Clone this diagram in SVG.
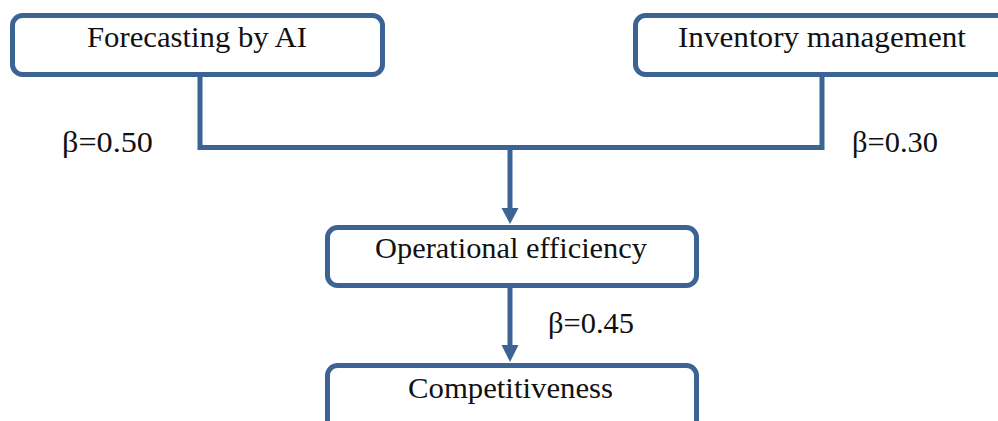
<svg xmlns="http://www.w3.org/2000/svg" width="998" height="421" viewBox="0 0 998 421">
<defs>
<style>
.box{fill:#ffffff;stroke:#3b6394;stroke-width:5}
.lbl{font-family:"Liberation Serif","DejaVu Serif","Times New Roman",serif;font-size:29px;fill:#111111}
.con{fill:none;stroke:#3b6394;stroke-width:5}
.head{fill:#3b6394}
</style>
</defs>
<rect width="998" height="421" fill="#ffffff"/>
<g id="connectors">
<path class="con" d="M200,76 V147.5 H822 V76"/>
<path class="con" d="M510,147.5 V210"/>
<polygon class="head" points="501.5,208 518.5,208 510,224"/>
<path class="con" d="M510,287 V347"/>
<polygon class="head" points="501.5,345 518.5,345 510,362"/>
<text class="lbl" x="62" y="152" textLength="91" lengthAdjust="spacingAndGlyphs">β=0.50</text>
<text class="lbl" x="852" y="152" textLength="86" lengthAdjust="spacingAndGlyphs">β=0.30</text>
<text class="lbl" x="548" y="333" textLength="86" lengthAdjust="spacingAndGlyphs">β=0.45</text>
</g>
<g id="node-forecasting">
<rect class="box" x="12.5" y="15.5" width="370" height="59" rx="10"/>
<text class="lbl" x="87" y="47" textLength="220" lengthAdjust="spacingAndGlyphs">Forecasting by AI</text>
</g>
<g id="node-inventory">
<rect class="box" x="635.5" y="15.5" width="380" height="59" rx="10"/>
<text class="lbl" x="678" y="47" textLength="288" lengthAdjust="spacingAndGlyphs">Inventory management</text>
</g>
<g id="node-operational">
<rect class="box" x="327.5" y="227.5" width="369" height="58" rx="10"/>
<text class="lbl" x="375" y="258" textLength="272" lengthAdjust="spacingAndGlyphs">Operational efficiency</text>
</g>
<g id="node-competitiveness">
<rect class="box" x="327.5" y="365.5" width="369" height="80" rx="10"/>
<text class="lbl" x="408" y="398" textLength="205" lengthAdjust="spacingAndGlyphs">Competitiveness</text>
</g>
</svg>
